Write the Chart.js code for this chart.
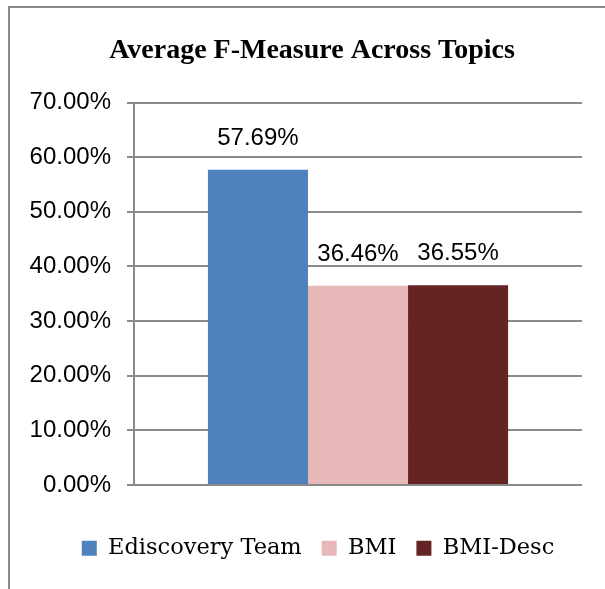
<!DOCTYPE html>
<html>
<head>
<meta charset="utf-8">
<script src="https://cdn.jsdelivr.net/npm/chart.js@4/dist/chart.umd.min.js"></script>
<style>
  html, body { margin: 0; padding: 0; background: #fff; overflow: hidden; }
  canvas { display: block; }
</style>
</head>
<body>
<canvas id="c" width="605" height="589"></canvas>
<script>
const chartTitle = "Average F-Measure Across Topics";
const categories = [""];
const seriesNames = ["Ediscovery Team", "BMI", "BMI-Desc"];
const seriesValues = [[0.5769], [0.3646], [0.3655]];
const seriesColors = ["#4F81BD", "#E6B9B8", "#632423"];
const yTicks = { min: 0, max: 0.7, step: 0.1 };

function pct(v) { return (Number(v) * 100).toFixed(2) + "%"; }

// outer chart frame: only the left and top edges fall inside the picture
const frame = {
  id: "frame",
  beforeDraw(chart) {
    const ctx = chart.ctx;
    ctx.save();
    ctx.strokeStyle = "#8a8a8a";
    ctx.lineWidth = 2;
    ctx.beginPath();
    ctx.moveTo(9, chart.height + 2);
    ctx.lineTo(9, 7);
    ctx.lineTo(chart.width + 2, 7);
    ctx.stroke();
    ctx.restore();
  },
  afterLayout(chart) {
    if (chart.legend) { chart.legend.left += 6; chart.legend.right += 6; }
  }
};

const dataLabels = {
  id: "dataLabels",
  afterDatasetsDraw(chart) {
    const ctx = chart.ctx;
    ctx.save();
    ctx.font = "24px 'Liberation Sans', Arial, sans-serif";
    ctx.fillStyle = "#000";
    ctx.textAlign = "center";
    ctx.textBaseline = "alphabetic";
    chart.data.datasets.forEach((ds, i) => {
      chart.getDatasetMeta(i).data.forEach((bar, j) => {
        ctx.fillText(pct(ds.data[j]), bar.x, bar.y - 25);
      });
    });
    ctx.restore();
  }
};

new Chart(document.getElementById("c"), {
  type: "bar",
  data: {
    labels: categories,
    datasets: seriesNames.map((n, i) => ({
      label: n,
      data: seriesValues[i],
      backgroundColor: seriesColors[i],
      borderWidth: 0,
      categoryPercentage: 0.67,
      barPercentage: 1.0
    }))
  },
  options: {
    responsive: false,
    animation: false,
    devicePixelRatio: 1,
    layout: { padding: { left: 42, right: 23, top: 0, bottom: 19.5 } },
    plugins: {
      title: {
        display: true,
        text: chartTitle,
        color: "#000",
        font: { family: "'Liberation Serif', 'Times New Roman', serif", size: 28, weight: "bold" },
        padding: { top: 34, bottom: 35 }
      },
      legend: {
        display: true,
        position: "bottom",
        labels: {
          color: "#000",
          boxWidth: 15,
          boxHeight: 15,
          padding: 20,
          font: { family: "'DejaVu Serif', serif", size: 22.5 }
        }
      },
      tooltip: { enabled: false }
    },
    scales: {
      x: {
        display: true,
        grid: { display: false },
        border: { display: false },
        ticks: { display: false },
        afterFit: function (s) { s.height = 32; }
      },
      y: {
        min: yTicks.min,
        max: yTicks.max,
        afterFit: function (s) {
          s.width = 92;
          // let the tick labels extend left of the axis box without being clipped
          s._computeLabelArea = function () { return undefined; };
        },
        ticks: {
          stepSize: yTicks.step,
          color: "#000",
          padding: 16,
          font: { family: "'Liberation Sans', Arial, sans-serif", size: 24 },
          callback: function (value, index, ticks) { return pct(ticks[index].value); }
        },
        grid: { color: "#8a8a8a", lineWidth: 2, tickLength: 7, drawTicks: true },
        border: { display: true, color: "#8a8a8a", width: 2 }
      }
    }
  },
  plugins: [frame, dataLabels]
});
</script>
</body>
</html>
